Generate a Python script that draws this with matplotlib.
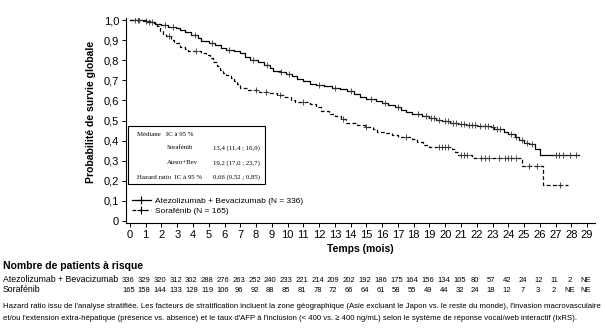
import matplotlib
matplotlib.use("Agg")
import matplotlib.pyplot as plt
from matplotlib.lines import Line2D
from matplotlib.patches import Rectangle
import matplotlib.transforms as mtransforms
import numpy as np

plt.rcParams['font.family'] = ['Liberation Sans', 'DejaVu Sans']

# courbes de Kaplan-Meier (temps en mois, survie apres chaque evenement)
atezo_t = [0, 0.8, 1.3, 1.6, 2.0, 2.4, 2.9, 3.2, 3.5, 3.9, 4.3, 4.5, 5.0, 5.4, 5.8, 6.1,
           6.6, 7.0, 7.3, 7.6, 8.1, 8.5, 8.9, 9.1, 9.5, 9.9, 10.3, 10.6, 11.0, 11.4, 11.8,
           12.3, 12.8, 13.3, 13.8, 14.2, 14.6, 15.0, 15.6, 16.0, 16.4, 16.8, 17.2, 17.5,
           17.9, 18.5, 19.0, 19.4, 19.8, 20.3, 20.8, 21.3, 22.0, 22.9, 23.1, 23.7, 24.0,
           24.4, 24.7, 25.0, 25.3, 25.7, 26.0, 28.5]
atezo_s = [1.0, 0.995, 0.99, 0.98, 0.975, 0.968, 0.962, 0.95, 0.94, 0.925, 0.91, 0.895,
           0.885, 0.875, 0.862, 0.852, 0.845, 0.835, 0.815, 0.802, 0.79, 0.777, 0.76,
           0.745, 0.74, 0.73, 0.72, 0.705, 0.695, 0.683, 0.675, 0.67, 0.662, 0.656, 0.645,
           0.632, 0.617, 0.607, 0.598, 0.588, 0.575, 0.565, 0.553, 0.54, 0.53, 0.522, 0.51,
           0.502, 0.497, 0.49, 0.482, 0.478, 0.475, 0.468, 0.457, 0.445, 0.432, 0.42,
           0.405, 0.39, 0.383, 0.36, 0.327, 0.327]
atezo_cens = [0.3, 0.6, 1.0, 1.4, 2.2, 2.7, 4.1, 5.2, 6.3, 7.8, 8.7, 9.6, 10.1, 12.0, 13.0,
              14.0, 15.3, 16.2, 17.0, 18.3, 18.8, 19.1, 19.3, 19.6, 20.0, 20.2, 20.5, 20.7,
              21.0, 21.2, 21.5, 21.7, 21.9, 22.2, 22.5, 22.7, 23.0, 23.3, 23.5, 24.2, 24.5,
              24.9, 25.2, 25.5, 27.0, 27.2, 27.5, 27.9, 28.3]

sora_t = [0, 1.0, 1.5, 1.7, 1.9, 2.1, 2.3, 2.6, 2.8, 3.2, 3.5, 3.7, 4.5, 4.8, 5.1, 5.3, 5.5,
          5.7, 5.9, 6.1, 6.4, 6.6, 6.8, 7.0, 7.5, 8.2, 8.9, 9.3, 9.8, 10.2, 10.5, 11.4, 11.8,
          12.1, 12.6, 13.0, 13.4, 13.7, 14.4, 14.9, 15.4, 15.7, 16.2, 16.6, 17.0, 17.9, 18.2,
          18.6, 19.0, 20.4, 20.6, 20.8, 21.7, 24.9, 26.2, 27.8]
sora_s = [1.0, 0.994, 0.985, 0.97, 0.945, 0.932, 0.92, 0.9, 0.886, 0.869, 0.856, 0.845,
          0.838, 0.825, 0.81, 0.79, 0.77, 0.752, 0.738, 0.726, 0.712, 0.698, 0.68, 0.66,
          0.65, 0.642, 0.635, 0.627, 0.617, 0.6, 0.59, 0.582, 0.565, 0.545, 0.533, 0.522,
          0.505, 0.488, 0.48, 0.468, 0.458, 0.445, 0.438, 0.428, 0.418, 0.41, 0.395, 0.38,
          0.368, 0.358, 0.342, 0.326, 0.315, 0.272, 0.18, 0.18]
sora_cens = [0.5, 1.2, 2.5, 4.2, 8.0, 8.6, 9.5, 11.0, 13.5, 15.0, 17.5, 19.6, 19.8, 20.0,
             20.2, 21.0, 21.2, 21.4, 22.3, 22.5, 22.8, 23.4, 23.8, 24.0, 24.2, 24.5, 25.3,
             25.8, 27.3]

# patients a risque
mois = list(range(30))
risque_atezo = ['336', '329', '320', '312', '302', '288', '276', '263', '252', '240', '233',
                '221', '214', '209', '202', '192', '186', '175', '164', '156', '134', '105',
                '80', '57', '42', '24', '12', '11', '2', 'NE']
risque_sora = ['165', '158', '144', '133', '128', '119', '106', '96', '92', '88', '85', '81',
               '78', '72', '66', '64', '61', '58', '55', '49', '44', '32', '24', '18', '12',
               '7', '3', '2', 'NE', 'NE']

y_ticks = [0, 0.1, 0.2, 0.3, 0.4, 0.5, 0.6, 0.7, 0.8, 0.9, 1.0]
y_labels = ['0', '0,1', '0,2', '0,3', '0,4', '0,5', '0,6', '0,7', '0,8', '0,9', '1,0']


def surv_at(times, surv, t):
    i = np.searchsorted(times, t, side='right') - 1
    return np.array(surv)[i]


fig = plt.figure(figsize=(6.05, 3.32), dpi=100)
ax = fig.add_axes([126 / 605, 1 - 223 / 332, 469 / 605, 205 / 332])

ax.plot(atezo_t, atezo_s, drawstyle='steps-post', color='black', lw=0.9)
ax.plot(sora_t, sora_s, drawstyle='steps-post', color='black', lw=0.9, dashes=(3, 2))
ax.plot(atezo_cens, surv_at(atezo_t, atezo_s, atezo_cens), ls='none', marker='+',
        ms=4, mew=0.6, color='#333333')
ax.plot(sora_cens, surv_at(sora_t, sora_s, sora_cens), ls='none', marker='+',
        ms=4, mew=0.6, color='#333333')

ax.set_xlim(-0.25, 29.5)
ax.set_ylim(-0.012, 1.012)
ax.set_xticks(mois)
ax.set_yticks(y_ticks)
ax.set_yticklabels(y_labels)
ax.tick_params(labelsize=8, length=3, width=0.7, pad=2)
for s in ['top', 'right']:
    ax.spines[s].set_visible(False)
for s in ['left', 'bottom']:
    ax.spines[s].set_linewidth(0.8)
ax.set_ylabel('Probabilité de survie globale', fontsize=7.5, fontweight='bold')
ax.yaxis.set_label_coords(-0.063, 0.54)
ax.set_xlabel('Temps (mois)', fontsize=7.5, fontweight='bold', labelpad=3)

# legende
h1 = Line2D([], [], color='black', lw=0.9, marker='+', ms=6, mew=0.8)
h2 = Line2D([], [], color='black', lw=0.9, dashes=(3, 2), marker='+', ms=6, mew=0.8)
ax.legend([h1, h2], ['Atezolizumab + Bevacizumab (N = 336)', 'Sorafénib (N = 165)'],
          loc='center left', bbox_to_anchor=(0.0, 0.083), frameon=False, fontsize=6,
          handlelength=2.3, handletextpad=0.5, labelspacing=0.3, borderaxespad=0.3)

# encadre des medianes
ax.add_patch(Rectangle((0.004, 0.19), 0.292, 0.283, transform=ax.transAxes,
                       fill=False, edgecolor='black', lw=0.8))
serif = dict(fontsize=4.9, family='Liberation Serif', va='center', transform=ax.transAxes)
ax.text(0.023, 0.434, 'Médiane   IC à 95 %', **serif)
ax.text(0.087, 0.366, 'Sorafénib', **serif)
ax.text(0.186, 0.366, '13,4 (11,4 ; 16,9)', **serif)
ax.text(0.087, 0.293, 'Atezo+Bev', **serif)
ax.text(0.186, 0.293, '19,2 (17,0 ; 23,7)', **serif)
ax.text(0.023, 0.224, 'Hazard ratio  IC à 95 %', **serif)
ax.text(0.186, 0.224, '0,66 (0,52 ; 0,85)', **serif)

# tableau des patients a risque
fig.text(3 / 605, 1 - 266 / 332, 'Nombre de patients à risque', fontsize=7.5,
         fontweight='bold', va='center')
fig.text(3 / 605, 1 - 280 / 332, 'Atezolizumab + Bevacizumab', fontsize=6.3, va='center')
fig.text(3 / 605, 1 - 290 / 332, 'Sorafénib', fontsize=6.3, va='center')
trans = mtransforms.blended_transform_factory(ax.transData, fig.transFigure)
for m, a, s in zip(mois, risque_atezo, risque_sora):
    ax.text(m - 0.1, 1 - 280 / 332, a, transform=trans, fontsize=5.5, ha='center', va='center')
    ax.text(m - 0.1, 1 - 290 / 332, s, transform=trans, fontsize=5.5, ha='center', va='center')

note1 = ("Hazard ratio issu de l'analyse stratifiée. Les facteurs de stratification incluent "
         "la zone géographique (Asie excluant le Japon vs. le reste du monde), l'invasion "
         "macrovasculaire")
note2 = ("et/ou l'extension extra-hépatique (présence vs. absence) et le taux d'AFP à "
         "l'inclusion (< 400 vs. ≥ 400 ng/mL) selon le système de réponse vocal/web "
         "interactif (IxRS).")
fig.text(3 / 605, 1 - 307 / 332, note1, fontsize=5.55, va='center')
fig.text(3 / 605, 1 - 318 / 332, note2, fontsize=5.55, va='center')

fig.savefig('out.png', dpi=100)
